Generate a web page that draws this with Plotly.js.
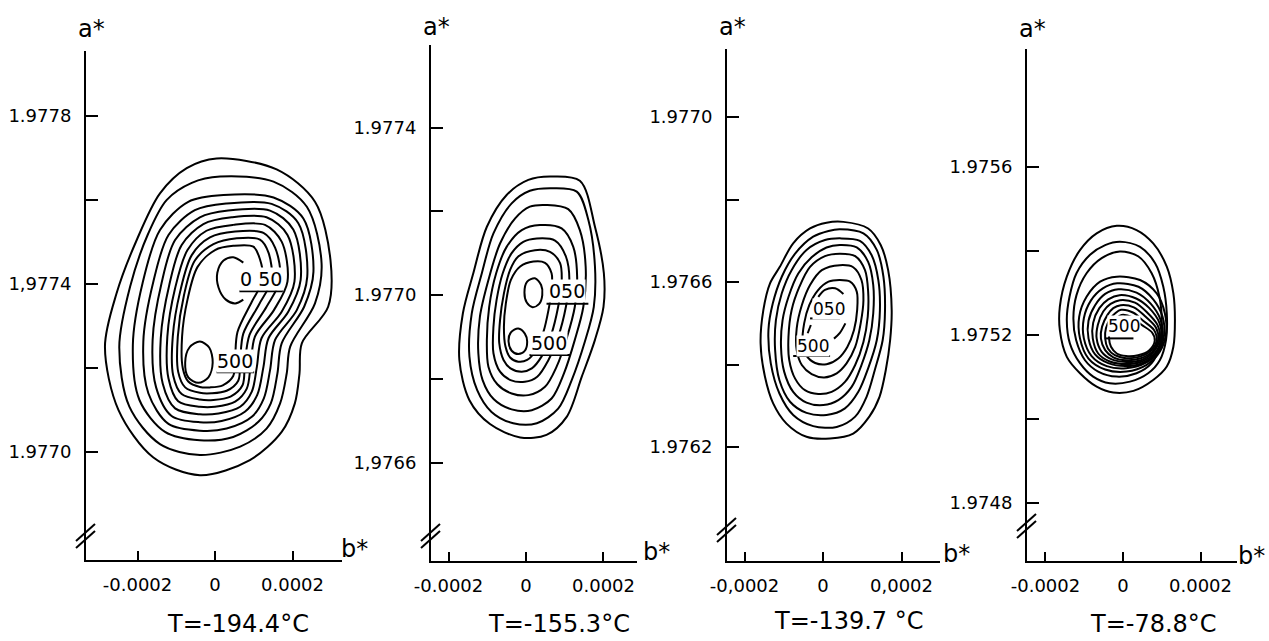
<!DOCTYPE html>
<html>
<head>
<meta charset="utf-8">
<script src="https://cdn.plot.ly/plotly-3.0.1.min.js"></script>
<style>
html,body{margin:0;padding:0;background:#ffffff;}
#chart{width:1269px;height:641px;}
</style>
</head>
<body>
<div id="chart"></div>
<script>
// ---------------- DATA (b*, a*) ----------------
// Panel 1 : T = -194.4 °C
const p1_c1 = [[0.000004,1.977699],[0.000159,1.977673],[0.000258,1.977596],[0.000298,1.977457],[0.000292,1.977346],[0.000224,1.977259],[0.000218,1.977187],[0.000206,1.977116],[0.000172,1.977048],[0.000090,1.976981],[-0.000039,1.976945],[-0.000159,1.976987],[-0.000249,1.977100],[-0.000284,1.977251],[-0.000254,1.977378],[-0.000202,1.977505],[-0.000142,1.977616],[-0.000073,1.977676]];
const p1_c2 = [[0.000013,1.977656],[0.000151,1.977644],[0.000237,1.977584],[0.000275,1.977449],[0.000258,1.977354],[0.000194,1.977251],[0.000185,1.977187],[0.000168,1.977116],[0.000133,1.977056],[0.000065,1.977013],[-0.000039,1.976993],[-0.000142,1.977019],[-0.000221,1.977108],[-0.000247,1.977251],[-0.000219,1.977394],[-0.000172,1.977521],[-0.000125,1.977600],[-0.000060,1.977641]];
const p1_c3 = [[0.000022,1.977612],[0.000151,1.977606],[0.000228,1.977556],[0.000254,1.977429],[0.000230,1.977346],[0.000172,1.977259],[0.000161,1.977187],[0.000144,1.977116],[0.000112,1.977072],[0.000047,1.977036],[-0.000039,1.977028],[-0.000129,1.977048],[-0.000195,1.977124],[-0.000212,1.977255],[-0.000187,1.977402],[-0.000142,1.977529],[-0.000069,1.977596]];
const p1_c4 = [[0.000030,1.977592],[0.000146,1.977591],[0.000215,1.977545],[0.000238,1.977417],[0.000211,1.977338],[0.000155,1.977267],[0.000142,1.977195],[0.000126,1.977128],[0.000095,1.977084],[0.000030,1.977056],[-0.000039,1.977051],[-0.000120,1.977067],[-0.000172,1.977140],[-0.000185,1.977263],[-0.000159,1.977406],[-0.000120,1.977517],[-0.000052,1.977576]];
const p1_c5 = [[0.000034,1.977575],[0.000142,1.977575],[0.000202,1.977530],[0.000221,1.977410],[0.000189,1.977334],[0.000138,1.977271],[0.000125,1.977203],[0.000109,1.977136],[0.000077,1.977096],[0.000017,1.977074],[-0.000039,1.977071],[-0.000112,1.977086],[-0.000152,1.977154],[-0.000161,1.977267],[-0.000138,1.977402],[-0.000103,1.977505],[-0.000039,1.977559]];
const p1_c6 = [[0.000043,1.977559],[0.000133,1.977559],[0.000187,1.977517],[0.000205,1.977406],[0.000172,1.977334],[0.000120,1.977271],[0.000108,1.977203],[0.000095,1.977144],[0.000065,1.977108],[0.000009,1.977092],[-0.000039,1.977090],[-0.000103,1.977104],[-0.000135,1.977163],[-0.000140,1.977271],[-0.000118,1.977398],[-0.000086,1.977493],[-0.000030,1.977543]];
const p1_c7 = [[0.000047,1.977541],[0.000129,1.977541],[0.000172,1.977501],[0.000187,1.977406],[0.000152,1.977338],[0.000103,1.977275],[0.000092,1.977207],[0.000082,1.977151],[0.000052,1.977120],[0.000000,1.977108],[-0.000039,1.977108],[-0.000095,1.977121],[-0.000120,1.977175],[-0.000123,1.977275],[-0.000103,1.977390],[-0.000071,1.977481],[-0.000022,1.977527]];
const p1_c8 = [[0.000052,1.977525],[0.000125,1.977522],[0.000155,1.977487],[0.000168,1.977410],[0.000133,1.977346],[0.000089,1.977279],[0.000077,1.977211],[0.000071,1.977159],[0.000040,1.977132],[-0.000004,1.977124],[-0.000039,1.977125],[-0.000086,1.977138],[-0.000108,1.977183],[-0.000109,1.977275],[-0.000090,1.977382],[-0.000060,1.977469],[-0.000013,1.977511]];
const p1_c9 = [[0.000056,1.977509],[0.000116,1.977506],[0.000138,1.977475],[0.000146,1.977410],[0.000114,1.977352],[0.000073,1.977282],[0.000065,1.977219],[0.000060,1.977170],[0.000030,1.977146],[-0.000009,1.977140],[-0.000039,1.977141],[-0.000077,1.977154],[-0.000095,1.977191],[-0.000096,1.977275],[-0.000080,1.977374],[-0.000052,1.977456],[-0.000004,1.977495]];
const p1_c10 = [[0.000047,1.977491],[0.000099,1.977489],[0.000116,1.977459],[0.000123,1.977410],[0.000095,1.977358],[0.000058,1.977286],[0.000052,1.977227],[0.000047,1.977181],[0.000020,1.977159],[-0.000013,1.977154],[-0.000039,1.977155],[-0.000069,1.977168],[-0.000083,1.977199],[-0.000085,1.977275],[-0.000071,1.977363],[-0.000045,1.977441],[0.000000,1.977481]];
const p1_peak050 = [[0.000073,1.977451],[0.000047,1.977464],[0.000022,1.977456],[0.000006,1.977427],[0.000009,1.977392],[0.000028,1.977363],[0.000052,1.977354],[0.000073,1.977363]];
const p1_peak500 = [[-0.000039,1.977263],[-0.000015,1.977249],[-0.000006,1.977213],[-0.000017,1.977178],[-0.000043,1.977165],[-0.000069,1.977178],[-0.000077,1.977213],[-0.000066,1.977249]];

// Panel 2 : T = -155.3 °C
const p2_c1 = [[0.000062,1.977283],[0.000139,1.977273],[0.000178,1.977163],[0.000201,1.977052],[0.000200,1.976972],[0.000178,1.976893],[0.000144,1.976805],[0.000105,1.976709],[0.000053,1.976666],[-0.000015,1.976660],[-0.000093,1.976692],[-0.000146,1.976749],[-0.000172,1.976845],[-0.000163,1.976956],[-0.000136,1.977052],[-0.000101,1.977163],[-0.000050,1.977239],[0.000006,1.977275]];
const p2_c2 = [[0.000062,1.977255],[0.000131,1.977247],[0.000161,1.977179],[0.000178,1.977068],[0.000175,1.976972],[0.000152,1.976889],[0.000118,1.976797],[0.000083,1.976729],[0.000028,1.976694],[-0.000033,1.976694],[-0.000089,1.976721],[-0.000126,1.976773],[-0.000146,1.976853],[-0.000140,1.976956],[-0.000114,1.977052],[-0.000084,1.977147],[-0.000037,1.977219],[0.000010,1.977249]];
const p2_c3 = [[0.000053,1.977215],[0.000109,1.977205],[0.000139,1.977155],[0.000154,1.977068],[0.000148,1.976972],[0.000126,1.976893],[0.000098,1.976813],[0.000066,1.976753],[0.000015,1.976725],[-0.000037,1.976727],[-0.000083,1.976751],[-0.000112,1.976797],[-0.000123,1.976861],[-0.000119,1.976948],[-0.000097,1.977036],[-0.000067,1.977123],[-0.000028,1.977183],[0.000010,1.977211]];
const p2_c4 = [[0.000036,1.977167],[0.000092,1.977159],[0.000122,1.977115],[0.000132,1.977044],[0.000126,1.976972],[0.000105,1.976897],[0.000079,1.976829],[0.000049,1.976781],[0.000006,1.976761],[-0.000037,1.976765],[-0.000074,1.976787],[-0.000097,1.976829],[-0.000101,1.976893],[-0.000095,1.976972],[-0.000077,1.977052],[-0.000050,1.977115],[-0.000011,1.977155]];
const p2_c5 = [[0.000028,1.977135],[0.000075,1.977130],[0.000103,1.977092],[0.000112,1.977036],[0.000103,1.976972],[0.000083,1.976900],[0.000058,1.976845],[0.000029,1.976805],[-0.000003,1.976793],[-0.000040,1.976797],[-0.000067,1.976817],[-0.000084,1.976861],[-0.000084,1.976924],[-0.000076,1.976988],[-0.000060,1.977052],[-0.000037,1.977100],[-0.000007,1.977127]];
const p2_c6 = [[0.000023,1.977107],[0.000062,1.977103],[0.000088,1.977076],[0.000092,1.977028],[0.000083,1.976972],[0.000066,1.976908],[0.000040,1.976853],[0.000015,1.976825],[-0.000011,1.976817],[-0.000040,1.976825],[-0.000058,1.976845],[-0.000069,1.976885],[-0.000067,1.976940],[-0.000057,1.977004],[-0.000041,1.977060],[-0.000020,1.977092]];
const p2_c7 = [[0.000019,1.977080],[0.000049,1.977077],[0.000066,1.977052],[0.000066,1.977012],[0.000058,1.976964],[0.000045,1.976912],[0.000026,1.976869],[0.000003,1.976845],[-0.000020,1.976841],[-0.000041,1.976851],[-0.000053,1.976877],[-0.000057,1.976924],[-0.000052,1.976980],[-0.000039,1.977036],[-0.000015,1.977068]];
const p2_peak050 = [[0.000023,1.977040],[0.000039,1.977024],[0.000042,1.977000],[0.000034,1.976979],[0.000017,1.976971],[0.000002,1.976982],[-0.000004,1.977006],[0.000003,1.977032]];
const p2_peak500 = [[-0.000020,1.976920],[-0.000003,1.976908],[0.000003,1.976889],[-0.000003,1.976867],[-0.000020,1.976859],[-0.000037,1.976867],[-0.000045,1.976889],[-0.000039,1.976911]];

// Panel 3 : T = -139.7 °C
const p3_c1 = [[0.000052,1.976746],[0.000115,1.976730],[0.000147,1.976690],[0.000166,1.976629],[0.000175,1.976532],[0.000171,1.976459],[0.000160,1.976387],[0.000144,1.976322],[0.000118,1.976274],[0.000077,1.976233],[0.000018,1.976221],[-0.000042,1.976225],[-0.000093,1.976257],[-0.000127,1.976306],[-0.000148,1.976371],[-0.000159,1.976451],[-0.000152,1.976532],[-0.000135,1.976597],[-0.000110,1.976637],[-0.000076,1.976694],[-0.000033,1.976730],[0.000009,1.976744]];
const p3_c2 = [[0.000043,1.976728],[0.000103,1.976718],[0.000137,1.976678],[0.000154,1.976613],[0.000158,1.976532],[0.000152,1.976459],[0.000132,1.976387],[0.000111,1.976322],[0.000082,1.976274],[0.000035,1.976249],[-0.000025,1.976251],[-0.000076,1.976278],[-0.000111,1.976330],[-0.000133,1.976403],[-0.000139,1.976484],[-0.000128,1.976548],[-0.000105,1.976613],[-0.000071,1.976669],[-0.000025,1.976710],[0.000014,1.976724]];
const p3_c3 = [[0.000043,1.976706],[0.000094,1.976700],[0.000124,1.976665],[0.000141,1.976605],[0.000145,1.976532],[0.000137,1.976459],[0.000115,1.976391],[0.000090,1.976334],[0.000056,1.976294],[0.000009,1.976278],[-0.000042,1.976283],[-0.000084,1.976310],[-0.000111,1.976362],[-0.000122,1.976435],[-0.000120,1.976508],[-0.000105,1.976573],[-0.000080,1.976629],[-0.000042,1.976678],[0.000005,1.976702]];
const p3_c4 = [[0.000043,1.976690],[0.000086,1.976684],[0.000115,1.976649],[0.000128,1.976593],[0.000128,1.976524],[0.000118,1.976459],[0.000098,1.976399],[0.000073,1.976346],[0.000039,1.976314],[0.000001,1.976302],[-0.000042,1.976308],[-0.000076,1.976334],[-0.000099,1.976383],[-0.000107,1.976443],[-0.000103,1.976508],[-0.000088,1.976564],[-0.000063,1.976621],[-0.000029,1.976660],[0.000009,1.976684]];
const p3_c5 = [[0.000043,1.976669],[0.000082,1.976663],[0.000107,1.976629],[0.000115,1.976577],[0.000114,1.976516],[0.000103,1.976455],[0.000082,1.976399],[0.000056,1.976358],[0.000022,1.976334],[-0.000012,1.976329],[-0.000046,1.976338],[-0.000071,1.976366],[-0.000086,1.976411],[-0.000088,1.976467],[-0.000080,1.976532],[-0.000060,1.976589],[-0.000033,1.976637],[0.000005,1.976663]];
const p3_c6 = [[0.000043,1.976641],[0.000077,1.976636],[0.000098,1.976605],[0.000103,1.976556],[0.000096,1.976500],[0.000082,1.976443],[0.000060,1.976403],[0.000035,1.976379],[0.000003,1.976369],[-0.000029,1.976377],[-0.000054,1.976399],[-0.000067,1.976435],[-0.000067,1.976488],[-0.000054,1.976544],[-0.000033,1.976593],[-0.000003,1.976629]];
const p3_c7 = [[0.000043,1.976605],[0.000069,1.976601],[0.000086,1.976577],[0.000087,1.976532],[0.000079,1.976484],[0.000062,1.976443],[0.000039,1.976415],[0.000009,1.976401],[-0.000020,1.976404],[-0.000043,1.976423],[-0.000052,1.976455],[-0.000048,1.976500],[-0.000035,1.976544],[-0.000014,1.976579],[0.000014,1.976601]];
const p3_arcTop = [[-0.000012,1.976564],[0.000005,1.976581],[0.000031,1.976585],[0.000052,1.976571]];
const p3_dash = [[-0.000039,1.976476],[-0.000031,1.976496]];
const p3_hook = [[0.000028,1.976463],[0.000043,1.976477],[0.000057,1.976500]];

// Panel 4 : T = -78.8 °C
const p4_c1 = [[-0.000016,1.975460],[0.000035,1.975450],[0.000078,1.975418],[0.000113,1.975363],[0.000130,1.975299],[0.000134,1.975236],[0.000130,1.975172],[0.000113,1.975125],[0.000078,1.975093],[0.000027,1.975067],[-0.000025,1.975063],[-0.000068,1.975077],[-0.000111,1.975109],[-0.000145,1.975148],[-0.000163,1.975212],[-0.000163,1.975267],[-0.000145,1.975339],[-0.000111,1.975402],[-0.000068,1.975442]];
const p4_c2 = [[-0.000008,1.975422],[0.000044,1.975410],[0.000083,1.975371],[0.000104,1.975315],[0.000113,1.975252],[0.000111,1.975188],[0.000095,1.975140],[0.000065,1.975109],[0.000018,1.975089],[-0.000034,1.975085],[-0.000077,1.975101],[-0.000111,1.975133],[-0.000137,1.975180],[-0.000145,1.975236],[-0.000138,1.975291],[-0.000120,1.975347],[-0.000085,1.975391],[-0.000046,1.975414]];
const p4_c3 = [[-0.000008,1.975399],[0.000040,1.975387],[0.000074,1.975347],[0.000094,1.975291],[0.000100,1.975228],[0.000094,1.975172],[0.000074,1.975133],[0.000035,1.975109],[-0.000016,1.975101],[-0.000064,1.975113],[-0.000098,1.975140],[-0.000121,1.975188],[-0.000128,1.975240],[-0.000120,1.975295],[-0.000094,1.975347],[-0.000055,1.975383]];
const p4_r1 = [[-0.000016,1.975339],[0.000044,1.975331],[0.000087,1.975299],[0.000108,1.975252],[0.000111,1.975204],[0.000095,1.975160],[0.000061,1.975129],[0.000009,1.975113],[-0.000046,1.975118],[-0.000089,1.975144],[-0.000111,1.975192],[-0.000113,1.975244],[-0.000094,1.975291],[-0.000059,1.975327]];
const p4_r2 = [[-0.000015,1.975323],[0.000040,1.975315],[0.000078,1.975285],[0.000102,1.975244],[0.000106,1.975200],[0.000091,1.975160],[0.000057,1.975133],[0.000008,1.975121],[-0.000042,1.975126],[-0.000081,1.975150],[-0.000101,1.975192],[-0.000101,1.975240],[-0.000083,1.975282],[-0.000052,1.975311]];
const p4_r3 = [[-0.000012,1.975309],[0.000035,1.975301],[0.000072,1.975274],[0.000097,1.975236],[0.000102,1.975196],[0.000087,1.975158],[0.000052,1.975134],[0.000008,1.975126],[-0.000038,1.975133],[-0.000072,1.975154],[-0.000089,1.975192],[-0.000089,1.975234],[-0.000072,1.975271],[-0.000046,1.975298]];
const p4_r4 = [[-0.000009,1.975295],[0.000034,1.975287],[0.000068,1.975264],[0.000094,1.975229],[0.000099,1.975194],[0.000083,1.975158],[0.000049,1.975137],[0.000008,1.975131],[-0.000034,1.975137],[-0.000064,1.975156],[-0.000078,1.975192],[-0.000077,1.975229],[-0.000061,1.975264],[-0.000038,1.975285]];
const p4_r5 = [[-0.000008,1.975283],[0.000031,1.975277],[0.000063,1.975253],[0.000089,1.975224],[0.000095,1.975192],[0.000078,1.975159],[0.000046,1.975140],[0.000008,1.975136],[-0.000029,1.975142],[-0.000055,1.975160],[-0.000068,1.975192],[-0.000065,1.975224],[-0.000051,1.975256],[-0.000032,1.975274]];
const p4_r6 = [[-0.000006,1.975271],[0.000028,1.975266],[0.000058,1.975244],[0.000085,1.975218],[0.000091,1.975190],[0.000075,1.975160],[0.000044,1.975144],[0.000008,1.975140],[-0.000025,1.975147],[-0.000046,1.975164],[-0.000057,1.975192],[-0.000054,1.975220],[-0.000040,1.975248],[-0.000025,1.975264]];
const p4_r7 = [[-0.000005,1.975260],[0.000027,1.975253],[0.000052,1.975234],[0.000080,1.975212],[0.000087,1.975188],[0.000071,1.975162],[0.000041,1.975148],[0.000008,1.975145],[-0.000021,1.975152],[-0.000039,1.975168],[-0.000046,1.975192],[-0.000044,1.975216],[-0.000032,1.975240],[-0.000020,1.975252]];
const p4_r8 = [[-0.000004,1.975248],[0.000025,1.975242],[0.000047,1.975225],[0.000075,1.975206],[0.000082,1.975187],[0.000068,1.975164],[0.000039,1.975152],[0.000008,1.975150],[-0.000016,1.975156],[-0.000031,1.975172],[-0.000036,1.975192],[-0.000034,1.975212],[-0.000023,1.975230],[-0.000015,1.975241]];

// Reflection labels: text, position (b*, a*), underline (b* from, b* to, a*)
const p1_labels = [{t:'0 50', b:0.000118, a:1.977413, u:[0.000063,0.000175,1.977383]}, {t:'500', b:0.000052, a:1.977216, u:[0.000004,0.000101,1.977190]}];
const p2_labels = [{t:'050', b:0.000107, a:1.977010, u:[0.000053,0.000161,1.976979]}, {t:'500', b:0.000060, a:1.976886, u:[0.000009,0.000114,1.976857]}];
const p3_labels = [{t:'050', b:0.000016, a:1.976534, u:[-0.000033,0.000043,1.976512]}, {t:'500', b:-0.000026, a:1.976445, u:[-0.000076,0.000018,1.976421]}];
const p4_labels = [{t:'500', b:0.000003, a:1.975221, u:[-0.000046,0.000027,1.975192]}];

// Tick values / labels
const xTickVals = [-0.0002, 0, 0.0002];
const xTickText = [['-0.0002','0','0.0002'],['-0.0002','0','0.0002'],['-0,0002','0','0,0002'],['-0.0002','0','0.0002']];
const yTickVals = [[1.9770,1.9774,1.9778],[1.9766,1.9770,1.9774],[1.9762,1.9766,1.9770],[1.9748,1.9752,1.9756]];
const yTickText = [['1.9770','1,9774','1.9778'],['1,9766','1.9770','1.9774'],['1.9762','1.9766','1.9770'],['1.9748','1.9752','1.9756']];
const yMinorVals = [[1.9772,1.9776],[1.9768,1.9772],[1.9764,1.9768],[1.9750,1.9754]];
const panelTitles = ['T=-194.4°C','T=-155.3°C','T=-139.7 °C','T=-78.8°C'];
const axisNames = ['a*', 'b*'];

// ---------------- LAYOUT (pixel geometry of each panel) ----------------
const W = 1269, H = 641;
const FONT = 'DejaVu Sans, Verdana, sans-serif';
const panels = [
  {l:86,  r:342,  t:51, b:560, brk:537, xr:[-0.0003329,0.0003277], yr:[1.976743,1.977955], aLab:[91,29],  bLab:[354,549], title:[238,624], labSize:19},
  {l:431, r:637,  t:45, b:561, brk:537, xr:[-0.0002452,0.0002865], yr:[1.976365,1.977597], aLab:[436,27], bLab:[656,552], title:[559,624], labSize:19},
  {l:727, r:940,  t:49, b:561, brk:531, xr:[-0.0002446,0.0002981], yr:[1.975924,1.977165], aLab:[732,27], bLab:[956,554], title:[849,621], labSize:17},
  {l:1027,r:1237, t:49, b:561, brk:527, xr:[-0.0002477,0.0002942], yr:[1.974662,1.975881], aLab:[1032,29],bLab:[1251,556],title:[1153,624],labSize:17}
];
const closedSets = [
  [p1_c1,p1_c2,p1_c3,p1_c4,p1_c5,p1_c6,p1_c7,p1_c8,p1_c9,p1_c10,p1_peak500],
  [p2_c1,p2_c2,p2_c3,p2_c4,p2_c5,p2_c6,p2_c7,p2_peak050,p2_peak500],
  [p3_c1,p3_c2,p3_c3,p3_c4,p3_c5,p3_c6,p3_c7],
  [p4_c1,p4_c2,p4_c3,p4_r1,p4_r2,p4_r3,p4_r4,p4_r5,p4_r6,p4_r7,p4_r8]
];
const openSets = [[p1_peak050],[],[p3_arcTop,p3_dash,p3_hook],[]];
const labelSets = [p1_labels,p2_labels,p3_labels,p4_labels];

const px = v => v / W;
const py = v => 1 - v / H;

const traces = [];
const layout = {
  width: W, height: H,
  margin: {l:0, r:0, t:0, b:0},
  paper_bgcolor: '#ffffff', plot_bgcolor: '#ffffff',
  showlegend: false,
  font: {family: FONT, size: 18, color: '#000000'},
  annotations: [], shapes: []
};

panels.forEach((p, i) => {
  const n = i + 1;
  const xa = n === 1 ? 'x' : 'x' + n;
  const ya = n === 1 ? 'y' : 'y' + n;
  const lineStyle = {color:'#000000', width:2, shape:'spline', smoothing:0.9};
  closedSets[i].forEach(c => {
    const pts = c.concat([c[0]]);
    traces.push({type:'scatter', mode:'lines', x: pts.map(q=>q[0]), y: pts.map(q=>q[1]),
      xaxis: xa, yaxis: ya, line: lineStyle, hoverinfo:'skip'});
  });
  openSets[i].forEach(c => {
    traces.push({type:'scatter', mode:'lines', x: c.map(q=>q[0]), y: c.map(q=>q[1]),
      xaxis: xa, yaxis: ya, line: lineStyle, hoverinfo:'skip'});
  });

  layout[n === 1 ? 'xaxis' : 'xaxis' + n] = {
    domain: [px(p.l), px(p.r)], range: p.xr, anchor: ya,
    showline: true, linecolor: '#000000', linewidth: 2,
    ticks: 'inside', ticklen: 9, tickwidth: 2, tickcolor: '#000000',
    tickmode: 'array', tickvals: xTickVals, ticktext: xTickText[i],
    ticklabelstandoff: 7,
    tickfont: {family: FONT, size: 18, color: '#000000'},
    showgrid: false, zeroline: false, fixedrange: true
  };
  layout[n === 1 ? 'yaxis' : 'yaxis' + n] = {
    domain: [py(p.b), py(p.t)], range: p.yr, anchor: xa,
    showline: true, linecolor: '#000000', linewidth: 2,
    ticks: 'inside', ticklen: 12, tickwidth: 2, tickcolor: '#000000',
    tickmode: 'array', tickvals: yTickVals[i], ticktext: yTickText[i],
    ticklabelstandoff: 9,
    minor: {tickmode:'array', tickvals: yMinorVals[i], ticks:'inside', ticklen:12, tickwidth:2, tickcolor:'#000000', showgrid:false},
    tickfont: {family: FONT, size: 18, color: '#000000'},
    showgrid: false, zeroline: false, fixedrange: true
  };

  // axis break "//"
  [[3,10],[10,17]].forEach(d => {
    layout.shapes.push({type:'line', xref:'paper', yref:'paper',
      x0: px(p.l - 10), y0: py(p.brk + d[1] - 6), x1: px(p.l + 9), y1: py(p.brk + d[0] - 16),
      line:{color:'#000000', width:2}});
  });

  // axis names and temperature
  layout.annotations.push({xref:'paper', yref:'paper', x: px(p.aLab[0]), y: py(p.aLab[1]),
    text: axisNames[0], showarrow:false, xanchor:'center', yanchor:'middle',
    font:{family: FONT, size: 24, color:'#000000'}});
  layout.annotations.push({xref:'paper', yref:'paper', x: px(p.bLab[0]), y: py(p.bLab[1]),
    text: axisNames[1], showarrow:false, xanchor:'center', yanchor:'middle',
    font:{family: FONT, size: 24, color:'#000000'}});
  layout.annotations.push({xref:'paper', yref:'paper', x: px(p.title[0]), y: py(p.title[1]),
    text: panelTitles[i], showarrow:false, xanchor:'center', yanchor:'middle',
    font:{family: FONT, size: 24, color:'#000000'}});

  // reflection labels with underline
  labelSets[i].forEach(L => {
    layout.annotations.push({xref: xa, yref: ya, x: L.b, y: L.a, text: L.t, showarrow:false,
      xanchor:'center', yanchor:'middle', bgcolor:'#ffffff', borderpad:0,
      font:{family: FONT, size: p.labSize, color:'#000000'}});
    layout.shapes.push({type:'line', xref: xa, yref: ya, x0: L.u[0], x1: L.u[1], y0: L.u[2], y1: L.u[2],
      line:{color:'#000000', width:2}, layer:'above'});
  });
});

Plotly.newPlot('chart', traces, layout, {staticPlot: true, displayModeBar: false});
</script>
</body>
</html>
